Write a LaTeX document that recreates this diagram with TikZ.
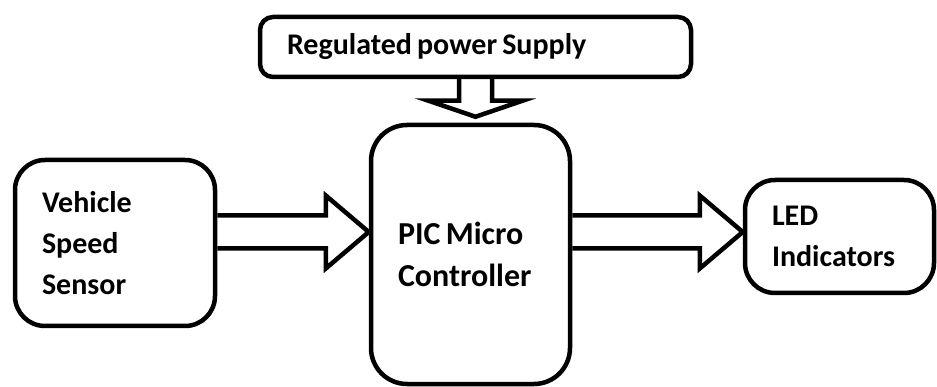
\documentclass[tikz,border=0pt]{standalone}
\usepackage{fontspec}
\setmainfont{Carlito}
\usetikzlibrary{calc}
\newcommand{\tightwords}{\spaceskip=0.17em\relax}
\tikzset{
  block/.style={draw=black,line width=4.5pt,align=left,inner xsep=27pt,inner ysep=0pt,
    font=\fontsize{30}{41}\selectfont\bfseries,execute at begin node=\tightwords},
  blockarrow/.style={draw=black,line width=4.5pt,line join=miter}
}
% hollow arrow, left to right; #1 tail, #2 tip
\newcommand{\sidearrow}[2]{%
  \draw[blockarrow] ($(#1)+(0,-16.5)$) -- ($(#2)+(-43,-16.5)$) -- ($(#2)+(-43,-36.5)$)
    -- (#2) -- ($(#2)+(-43,36.5)$) -- ($(#2)+(-43,16.5)$) -- ($(#1)+(0,16.5)$);
}
% hollow arrow, top to bottom
\newcommand{\feedarrow}[2]{%
  \draw[blockarrow] ($(#1)+(-16.5,0)$) -- ($(#2)+(-16.5,-16)$) -- ($(#2)+(-47,-16)$)
    -- (#2) -- ($(#2)+(47,-16)$) -- ($(#2)+(16.5,-16)$) -- ($(#1)+(16.5,0)$);
}

\begin{document}
\begin{tikzpicture}[x=1pt,y=-1pt]
  \useasboundingbox (0,0) rectangle (937,387);

  \node[block,rounded corners=13pt,minimum width=431pt,minimum height=60pt,
        text width=377pt,yshift=-3pt] (supply) at (475.5,44) {Regulated power Supply};
  \node[block,rounded corners=36pt,minimum width=199pt,minimum height=259pt,
        text width=145pt,font=\fontsize{32}{42}\selectfont\bfseries]
        (pic) at (470.5,254.5) {PIC Micro\\Controller};
  \node[block,rounded corners=30pt,minimum width=200pt,minimum height=166pt,
        text width=146pt] (sensor) at (115,243) {Vehicle\\Speed\\Sensor};
  \node[block,rounded corners=30pt,minimum width=189pt,minimum height=113pt,
        text width=135pt] (led) at (839.5,236.5) {LED\\Indicators};

  \coordinate (lane) at (0,232);
  \coordinate (drop) at ($(supply.south |- pic.north)+(0,-6)$);

  \feedarrow{supply.south}{drop}
  \sidearrow{sensor.east |- lane}{pic.west |- lane}
  \sidearrow{pic.east |- lane}{led.west |- lane}
\end{tikzpicture}
\end{document}
